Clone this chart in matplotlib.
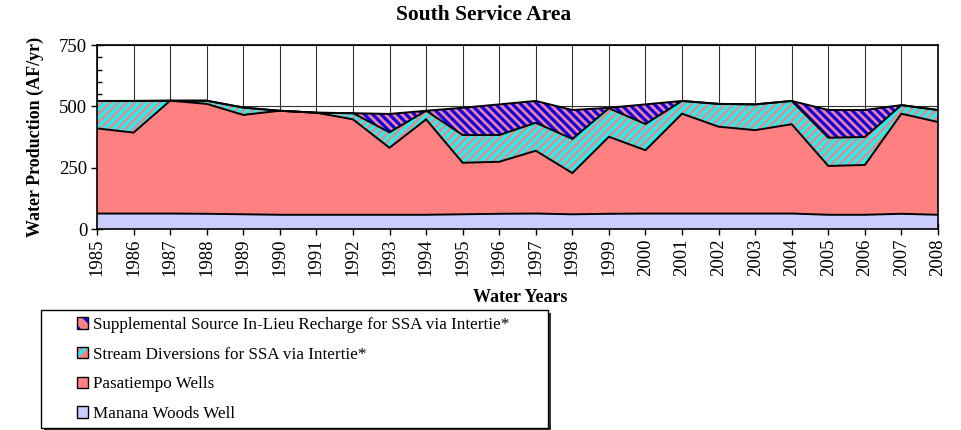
import numpy as np
import matplotlib; matplotlib.use("Agg")
import matplotlib.pyplot as plt
from matplotlib.patches import Patch, Rectangle
from matplotlib.ticker import MultipleLocator

plt.rcParams['font.family'] = ['Liberation Serif', 'DejaVu Serif']
plt.rcParams['hatch.linewidth'] = 2.3

# ---------- data (AF/yr) ----------
years = np.arange(1985, 2009)
manana = [63, 63, 63, 62, 60, 58, 58, 58, 58, 58, 60, 62, 63, 60, 62, 63, 63, 63, 63, 63, 58, 58, 62, 58]
pasatiempo = [347, 330, 460, 448, 405, 424, 416, 389, 273, 389, 210, 212, 256, 168, 314, 258, 407, 354, 340, 364, 199, 203, 408, 378]
stream = [112, 129, 0, 13, 30, 0, 0, 25, 63, 35, 113, 109, 114, 139, 116, 107, 52, 93, 105, 95, 115, 114, 35, 49]
supplemental = [0, 0, 0, 0, 0, 0, 0, 0, 75, 0, 111, 125, 89, 118, 2, 80, 0, 0, 0, 0, 113, 110, 0, 0]

labels = ["Supplemental Source In-Lieu Recharge for SSA via Intertie*",
          "Stream Diversions for SSA via Intertie*",
          "Pasatiempo Wells",
          "Manana Woods Well"]

W, H = 962, 430
fig = plt.figure(figsize=(W / 100, H / 100), dpi=100)
ax = fig.add_axes([97 / W, 1 - 229 / H, (938 - 97) / W, (229 - 45) / H])

c1 = np.array(manana); c2 = c1 + pasatiempo; c3 = c2 + stream; c4 = c3 + supplemental
pink = "#FF8080"
ax.fill_between(years, 0, c1, facecolor="#CCCCFF", lw=0, zorder=2)
ax.fill_between(years, c1, c2, facecolor=pink, lw=0, zorder=2)
ax.fill_between(years, c2, c3, facecolor=pink, edgecolor="#00FFFF", hatch="////", lw=0, zorder=2)
ax.fill_between(years, c3, c4, facecolor=pink, edgecolor="#0000FF", hatch="\\\\\\\\", lw=0, zorder=2)
for c in (c1, c2, c3, c4):
    ax.plot(years, c, color="k", lw=1.4, zorder=3, solid_joinstyle="miter")

ax.set_xlim(1985, 2008); ax.set_ylim(0, 750)
ax.set_xticks(years)
ax.set_xticklabels([str(y) for y in years], rotation=90, fontsize=13.5)
ax.set_yticks([0, 250, 500, 750])
ax.yaxis.set_minor_locator(MultipleLocator(50))
ax.tick_params(axis="y", which="major", direction="inout", length=8, width=1, labelsize=13.5, pad=3)
ax.tick_params(axis="y", which="minor", direction="in", length=3.5, width=1)
ax.tick_params(axis="x", which="major", direction="inout", length=8, width=1, pad=3)
ax.grid(True, color="#333333", lw=0.8, zorder=1)
ax.set_axisbelow(True)
for s in ax.spines.values():
    s.set_linewidth(1.2); s.set_zorder(4)

fig.text(484 / W, 1 - 15 / H, "South Service Area", ha="center", va="center", fontsize=15.5, fontweight="bold")
fig.text(520 / W, 1 - 298 / H, "Water Years", ha="center", va="center", fontsize=13, fontweight="bold")
fig.text(35 / W, 1 - 137 / H, "Water Production (AF/yr)", ha="center", va="center", rotation=90,
         fontsize=13, fontweight="bold")

# legend frame with shadow
fig.patches.append(Rectangle((44 / W, 1 - 431 / H), (548 - 41) / W, (428 - 310) / H,
                             transform=fig.transFigure, fc="#333333", ec="none", zorder=1))
fig.patches.append(Rectangle((41 / W, 1 - 428 / H), (548 - 41) / W, (428 - 310) / H,
                             transform=fig.transFigure, fc="white", ec="k", lw=1, zorder=2))

edge = Patch(fc="none", ec="k", lw=1)
handles = [(Patch(fc=pink, ec="#0000FF", hatch="\\\\", lw=0), edge),
           (Patch(fc=pink, ec="#00FFFF", hatch="//", lw=0), edge),
           Patch(fc=pink, ec="k", lw=1),
           Patch(fc="#CCCCFF", ec="k", lw=1)]
leg = fig.legend(handles, labels, loc="upper left", bbox_to_anchor=(77 / W, 1 - 317 / H),
                 frameon=False, fontsize=12.3, borderpad=0, borderaxespad=0,
                 handlelength=0.64, handleheight=0.64, handletextpad=0.3, labelspacing=0.8)
leg.set_zorder(3)

fig.savefig("out.png", dpi=100)
